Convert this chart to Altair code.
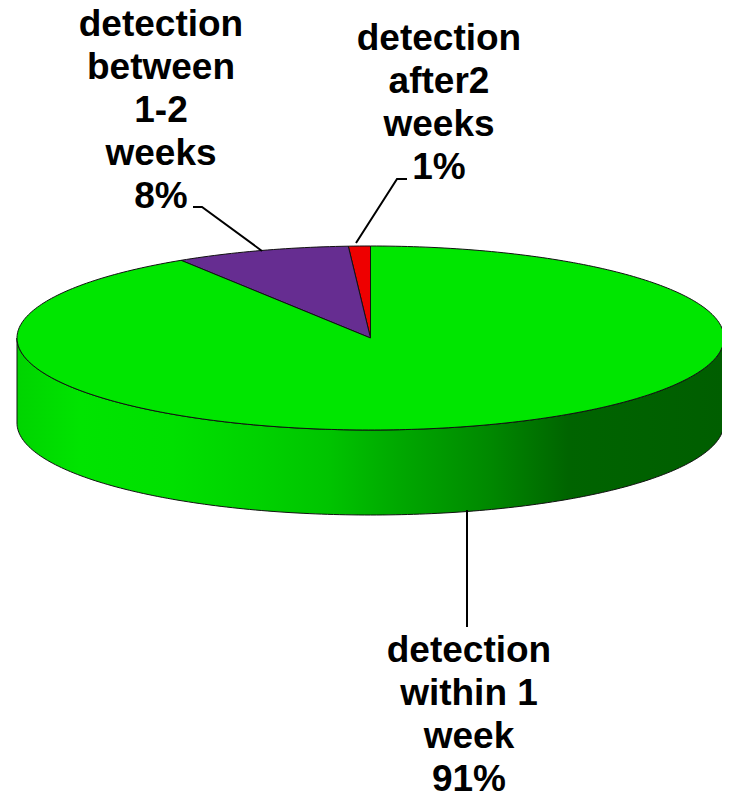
import math
import altair as alt
import pandas as pd

# ---- data ----
categories = ["detection after2 weeks", "detection between 1-2 weeks", "detection within 1 week"]
values = [1, 8, 91]
label_texts = [
    "detection\nafter2\nweeks\n1%",
    "detection\nbetween\n1-2\nweeks\n8%",
    "detection\nwithin 1\nweek\n91%",
]
slice_colors = ["#ee0000", "#662d91", "#00e600"]

# ---- layout (page pixels) ----
CX, CY, RX, RY, DEPTH = 370.5, 338.0, 353.5, 92.0, 85.0
W, H = 714, 787


def ell(t, dy=0.0):
    # t: angle from 12 o'clock, counter-clockwise (to the left)
    return CX - RX * math.sin(t), CY - RY * math.cos(t) + dy


# top face slices
rows = []
total = sum(values)
start = 0.0
for cat, v in zip(categories, values):
    a0 = start
    a1 = start + 2 * math.pi * v / total
    start = a1
    pts = [(CX, CY)]
    n = max(4, int(math.degrees(a1 - a0)))
    for k in range(n + 1):
        pts.append(ell(a0 + (a1 - a0) * k / n))
    for i, (x, y) in enumerate(pts):
        rows.append({"cat": cat, "i": i, "x": x, "y": y})
slices = pd.DataFrame(rows)

# side wall (front half, all within the largest slice)
side_pts = []
N = 180
for k in range(N + 1):
    side_pts.append(ell(math.pi / 2 + math.pi * k / N))
for k in range(N + 1):
    side_pts.append(ell(3 * math.pi / 2 - math.pi * k / N, DEPTH))
side = pd.DataFrame([{"i": i, "x": x, "y": y} for i, (x, y) in enumerate(side_pts)])

# leader lines
leaders = pd.DataFrame([
    {"id": 0, "i": 0, "x": 356, "y": 243}, {"id": 0, "i": 1, "x": 397, "y": 179}, {"id": 0, "i": 2, "x": 407, "y": 179},
    {"id": 1, "i": 0, "x": 262, "y": 251}, {"id": 1, "i": 1, "x": 202, "y": 207}, {"id": 1, "i": 2, "x": 193, "y": 207},
    {"id": 2, "i": 0, "x": 467, "y": 510}, {"id": 2, "i": 1, "x": 467, "y": 627},
])

labels = pd.DataFrame({
    "text": label_texts,
    "x": [439, 161, 469],
    "y": [50, 36, 662],
})

xs = alt.Scale(domain=[8, 8 + W], nice=False, zero=False)
ys = alt.Scale(domain=[8, 8 + H], nice=False, zero=False, reverse=True)
X = alt.X("x:Q", scale=xs, axis=None)
Y = alt.Y("y:Q", scale=ys, axis=None)

grad = alt.LinearGradient(
    gradient="linear", x1=0, x2=1, y1=0, y2=0,
    stops=[
        alt.GradientStop(offset=0.0, color="#00d400"),
        alt.GradientStop(offset=0.09, color="#00e400"),
        alt.GradientStop(offset=0.22, color="#00e000"),
        alt.GradientStop(offset=0.34, color="#00d200"),
        alt.GradientStop(offset=0.44, color="#00c400"),
        alt.GradientStop(offset=0.54, color="#00a800"),
        alt.GradientStop(offset=0.67, color="#008800"),
        alt.GradientStop(offset=0.78, color="#006400"),
        alt.GradientStop(offset=1.0, color="#005e00"),
    ],
)

side_layer = alt.Chart(side).mark_line(
    interpolate="linear-closed", fill=grad, stroke="#111111", strokeWidth=1
).encode(x=X, y=Y, order=alt.Order("i:Q"))

slice_layers = []
for cat, col in zip(categories, slice_colors):
    slice_layers.append(
        alt.Chart(slices).transform_filter(alt.datum.cat == cat).mark_line(
            interpolate="linear-closed", fill=col, stroke="#111111", strokeWidth=1
        ).encode(x=X, y=Y, order=alt.Order("i:Q"))
    )

leader_layer = alt.Chart(leaders).mark_line(color="black", strokeWidth=2).encode(
    x=X, y=Y, detail="id:N", order=alt.Order("i:Q")
)

text_layer = alt.Chart(labels).mark_text(
    font="Liberation Sans", fontWeight="bold", fontSize=37, lineHeight=43,
    align="center", baseline="alphabetic", lineBreak="\n", color="black"
).encode(x=X, y=Y, text="text:N")

chart = alt.layer(side_layer, *slice_layers, leader_layer, text_layer).properties(
    width=W, height=H, padding=0, autosize=alt.AutoSizeParams(type="none")
).configure_view(stroke=None)

chart.save("out.html", embed_options={"renderer": "svg", "actions": False})
